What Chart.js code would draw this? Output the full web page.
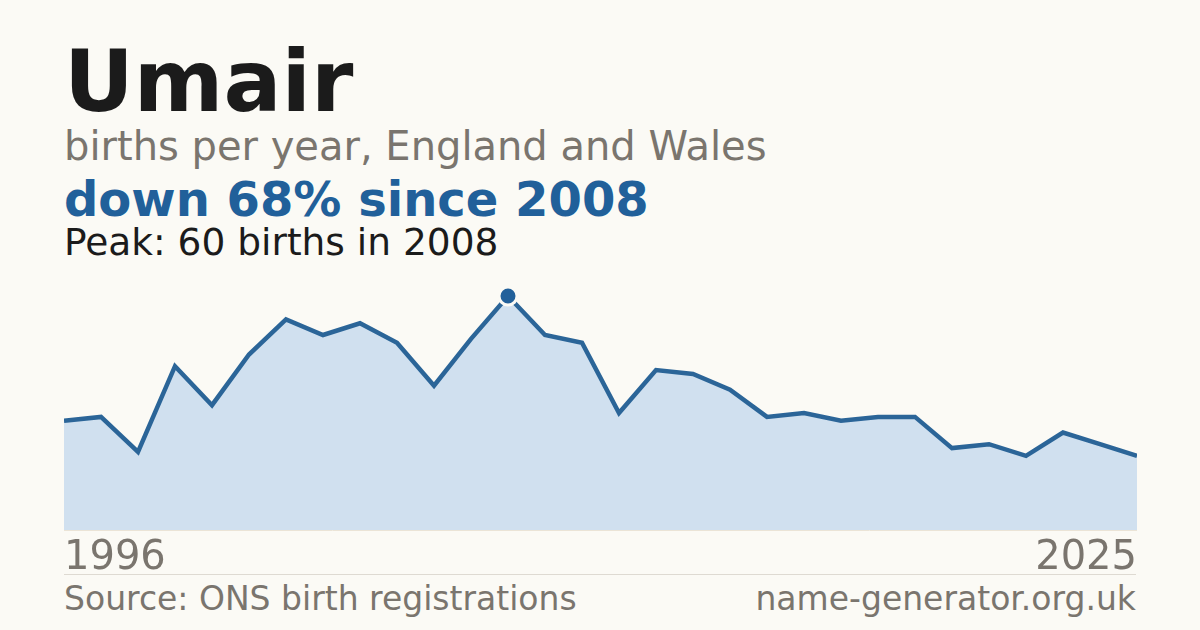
<!DOCTYPE html>
<html>
<head>
<meta charset="utf-8">
<script src="https://cdn.jsdelivr.net/npm/chart.js@4/dist/chart.umd.min.js"></script>
<style>
  html, body { margin: 0; padding: 0; }
  body { width: 1200px; height: 630px; background: #fbfaf5; position: relative; overflow: hidden;
         font-family: "DejaVu Sans", sans-serif; }
  .t { position: absolute; left: 64px; line-height: 1; white-space: nowrap; }
  #title { top: 38px; font-size: 86px; font-weight: bold; color: #1b1b1b; }
  #sub { top: 126px; font-size: 40px; color: #7a756e; }
  #change { top: 175px; font-size: 48px; font-weight: bold; color: #21609a; }
  #peak { top: 224px; font-size: 37.5px; color: #1b1b1b; }
  #rule { position: absolute; left: 64px; top: 574px; width: 1072px; height: 1px; background: #dedad2; }
  .foot { top: 582px; font-size: 33px; color: #7a756e; }
  #site { left: auto; right: 64px; }
  #wrap { position: absolute; left: 64px; top: 237px; width: 1073px; height: 338px; }
</style>
</head>
<body>
<div class="t" id="title">Umair</div>
<div class="t" id="sub">births per year, England and Wales</div>
<div class="t" id="change">down 68% since 2008</div>
<div class="t" id="peak">Peak: 60 births in 2008</div>
<div id="wrap"><canvas id="chart" width="1073" height="338"></canvas></div>
<div id="rule"></div>
<div class="t foot" id="src">Source: ONS birth registrations</div>
<div class="t foot" id="site">name-generator.org.uk</div>

<script>
// births per year
const years = [1996, 1997, 1998, 1999, 2000, 2001, 2002, 2003, 2004, 2005,
               2006, 2007, 2008, 2009, 2010, 2011, 2012, 2013, 2014, 2015,
               2016, 2017, 2018, 2019, 2020, 2021, 2022, 2023, 2024, 2025];
const births = [28, 29, 20, 42, 32, 45, 54, 50, 53, 48,
                37, 49, 60, 50, 48, 30, 41, 40, 36, 29,
                30, 28, 29, 29, 21, 22, 19, 25, 22, 19];
const shownTicks = [1996, 2025];

const peakIdx = births.indexOf(Math.max(...births));

const ctx = document.getElementById('chart').getContext('2d');

new Chart(ctx, {
  type: 'line',
  data: {
    labels: years,
    datasets: [{
      data: births,
      borderColor: '#2b6598',
      borderWidth: 4.5,
      backgroundColor: '#d0e0ef',
      fill: 'origin',
      tension: 0,
      pointRadius: c => c.dataIndex === peakIdx ? 9 : 0,
      pointHoverRadius: 0,
      pointBackgroundColor: '#21609a',
      pointBorderColor: '#fbfaf5',
      pointBorderWidth: 3,
      clip: false
    }]
  },
  options: {
    responsive: false,
    animation: false,
    events: [],
    layout: { autoPadding: false, padding: { top: 20, left: 0, right: 0, bottom: 0 } },
    plugins: { legend: { display: false }, tooltip: { enabled: false } },
    scales: {
      x: {
        offset: false,
        grid: { display: false, drawTicks: false },
        border: { display: true, color: '#ebe4d6', width: 1 },
        ticks: {
          autoSkip: false,
          maxRotation: 0,
          align: 'inner',
          padding: 5,
          color: '#7a756e',
          font: { family: 'DejaVu Sans', size: 40 },
          callback: function (val, i) {
            const y = this.getLabelForValue(val);
            return shownTicks.includes(Number(y)) ? String(y) : '';
          }
        },
        afterFit: s => {
          s.height = 45;
          s.paddingLeft = 0;
          s.paddingRight = 0;
        }
      },
      y: {
        display: false,
        min: 0,
        max: 70
      }
    }
  }
});
</script>
</body>
</html>
